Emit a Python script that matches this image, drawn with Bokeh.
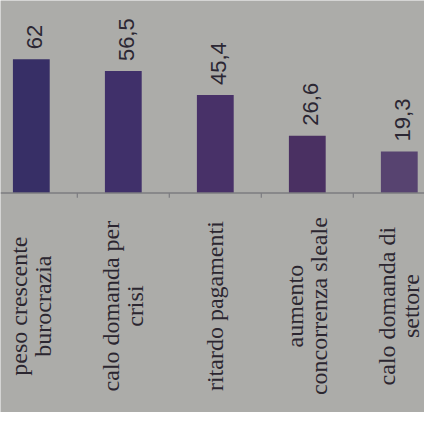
import numpy as np
from math import pi
from bokeh.plotting import figure
from bokeh.models import Range1d, Span, ColumnDataSource
from bokeh.core.properties import value
from bokeh.embed import file_html
from bokeh.resources import INLINE

# ---- data ----
categories = ["peso crescente\nburocrazia",
              "calo domanda per\ncrisi",
              "ritardo pagamenti",
              "aumento\nconcorrenza sleale",
              "calo domanda di\nsettore"]
values = [62, 56.5, 45.4, 26.6, 19.3]
value_labels = ["62", "56,5", "45,4", "26,6", "19,3"]

# ---- style ----
palette = ["#372f66", "#40306a", "#483168", "#4a3062", "#574370"]
bg = "#acaca9"

idx = np.arange(len(categories))

p = figure(width=424, height=412, output_backend="svg", toolbar_location=None,
           x_range=Range1d(-0.335, 4.274), y_range=Range1d(-101.6, 89.2),
           min_border=0, background_fill_color=bg, border_fill_color=bg,
           outline_line_color=None)
p.axis.visible = False
p.grid.visible = False

src = ColumnDataSource(dict(x=idx, top=values, lab=value_labels, color=palette))
p.vbar(x="x", top="top", bottom=0, width=0.4, fill_color="color",
       line_color=None, source=src)

# baseline axis
p.add_layout(Span(location=0, dimension="width", line_color="#7c7c80", line_width=1.5))
mids = idx[:-1] + 0.5
p.segment(x0=mids, y0=np.zeros(len(mids)), x1=mids, y1=np.full(len(mids), -2.2),
          line_color="#7c7c80", line_width=1.2)

# value labels (rotated)
p.text(x="x", y="top", text="lab", source=src, angle=pi / 2,
       text_align="left", text_baseline="middle", x_offset=3, y_offset=-10,
       text_font=value("Liberation Sans"), text_font_size="22px",
       text_color="#2b2733")

# category labels, one glyph per line, centred on the bar
xs, ys, txt, xo = [], [], [], []
for i, cat in enumerate(categories):
    lines = cat.split("\n")
    n = len(lines)
    for k, ln in enumerate(lines):
        xs.append(idx[i])
        ys.append(0)
        txt.append(ln)
        xo.append((k - (n - 1) / 2) * 24)
lsrc = ColumnDataSource(dict(x=xs, y=ys, t=txt, xo=xo))
p.text(x="x", y="y", text="t", source=lsrc, angle=pi / 2, x_offset="xo",
       y_offset=113, text_align="center", text_baseline="middle",
       text_font=value("Liberation Serif"), text_font_size="24px",
       text_color="#2b2630")

open("out.html", "w").write(file_html(p, INLINE))
